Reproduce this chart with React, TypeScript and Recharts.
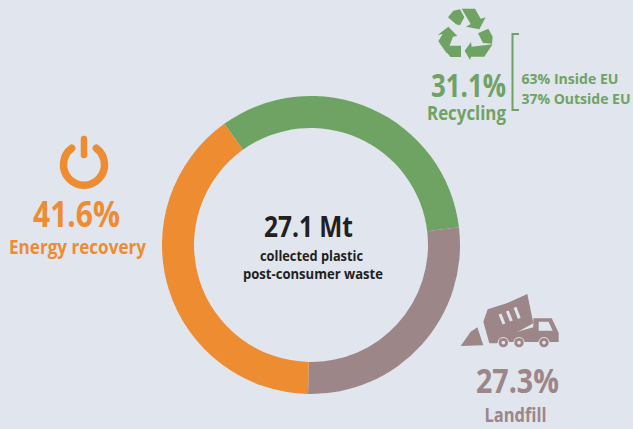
import React from "react";
import { PieChart, Pie, Cell, Customized } from "recharts";

const categories = ["Recycling", "Landfill", "Energy recovery"];
const arcShares = [33.0, 27.2, 39.8];
const sliceColors = ["#6fa364", "#9c8688", "#ed8c31"];
const percentLabels = ["31.1%", "27.3%", "41.6%"];
const totalLabel = "27.1 Mt";
const subtitleLines = ["collected plastic", "post-consumer waste"];
const recyclingSplit = ["63% Inside EU", "37% Outside EU"];

const chartData = categories.map((name, i) => ({ name, value: arcShares[i] }));

const BG = "#e0e5ee";
const FONT = "'Open Sans', 'Noto Sans', sans-serif";

const T = ({ w, ...p }: any) => (
  <text fontFamily={FONT} fontWeight={700} textAnchor="middle" textLength={w} lengthAdjust="spacingAndGlyphs" {...p} />
);

function Overlay() {
  const [green, mauve, orange] = sliceColors;
  return (
    <g>
      {/* centre */}
      <T x={308.5} y={237} w={89} fontSize={28.5} fill="#231f20">{totalLabel}</T>
      <T x={311.5} y={261} w={103} fontSize={14.5} fill="#231f20">{subtitleLines[0]}</T>
      <T x={313} y={279} w={140} fontSize={14.5} fill="#231f20">{subtitleLines[1]}</T>

      {/* power icon */}
      <path d="M71.7 148.3 A20.5 20.5 0 1 0 96.3 148.3" fill="none" stroke={orange} strokeWidth={7.5} strokeLinecap="round" />
      <line x1={84} y1={139} x2={84} y2={155} stroke={orange} strokeWidth={6.5} strokeLinecap="round" />
      <T x={76.5} y={227} w={87} fontSize={35} fill={orange}>{percentLabels[2]}</T>
      <T x={77.5} y={254} w={137} fontSize={20} fill={orange}>{categories[2]}</T>

      {/* recycle icon */}
      <g fill={green} transform="translate(420 0) scale(0.3333)">
        <path d="M84 52 L100 32 L120 28 L133 52 L120 76 L108 73 Z" />
        <path d="M125 26 L165 26 L182 56 L197 52 L178 88 L138 80 L152 72 Z" />
        <path d="M85 80 L112 108 L99 110 L80 160 L55 124 L68 102 L53 105 Z" />
        <path d="M85 137 L123 137 L123 171 L92 171 L78 155 Z" />
        <path d="M153 126 L155 140 L218 133 L193 170 L153 170 L150 180 L134 152 Z" />
        <path d="M174 100 L205 86 L218 110 L216 131 L189 129 Z" />
      </g>
      <T x={468.5} y={97} w={75} fontSize={33} fill={green}>{percentLabels[0]}</T>
      <T x={466.5} y={120} w={79} fontSize={20} fill={green}>{categories[0]}</T>
      <path d="M519 34 H512.5 V110 H519" fill="none" stroke={green} strokeWidth={2} />
      <T x={521.5} y={84} w={97} fontSize={14.5} fill={green} textAnchor="start">{recyclingSplit[0]}</T>
      <T x={521.5} y={104} w={109} fontSize={14.5} fill={green} textAnchor="start">{recyclingSplit[1]}</T>

      {/* truck icon */}
      <g transform="translate(450 290) scale(0.3333)">
        <path fill={mauve} d="M32 168 L62 125 L82 112 L100 166 Z" />
        <path fill={mauve} d="M113 58 L170 40 L232 12 L250 100 L140 160 L118 160 L100 95 Z" />
        <path fill={mauve} d="M250 85 L305 85 L326 128 L326 156 L150 156 L150 140 L250 112 Z" />
        <path fill={BG} d="M266 95 L296 95 L308 122 L266 122 Z" />
        <path fill="none" stroke={BG} strokeWidth={9} d="M150 72 L162 102 M172 63 L184 93 M195 52 L208 85" />
        {[160, 207, 282].map((cx) => (
          <g key={cx}>
            <circle cx={cx} cy={158} r={17} fill={BG} />
            <circle cx={cx} cy={158} r={14} fill={mauve} />
            <circle cx={cx} cy={158} r={5.5} fill={BG} />
          </g>
        ))}
      </g>
      <T x={517.5} y={393} w={83} fontSize={34} fill={mauve}>{percentLabels[1]}</T>
      <T x={515.5} y={422} w={62} fontSize={19} fill={mauve}>{categories[1]}</T>
    </g>
  );
}

export default function App() {
  return (
    <div style={{ position: "absolute", left: 0, top: 0, width: 633, height: 429, background: BG, overflow: "hidden" }}>
      <PieChart width={633} height={429} margin={{ top: 0, right: 0, bottom: 0, left: 0 }}>
        <Pie
          data={chartData}
          dataKey="value"
          nameKey="name"
          cx={311}
          cy={245}
          innerRadius={117}
          outerRadius={149}
          startAngle={125.6}
          endAngle={-234.4}
          paddingAngle={0}
          stroke="none"
          isAnimationActive={false}
          label={false}
          labelLine={false}
        >
          {chartData.map((d, i) => (
            <Cell key={d.name} fill={sliceColors[i]} stroke="none" />
          ))}
        </Pie>
        <Customized component={Overlay} />
      </PieChart>
    </div>
  );
}
